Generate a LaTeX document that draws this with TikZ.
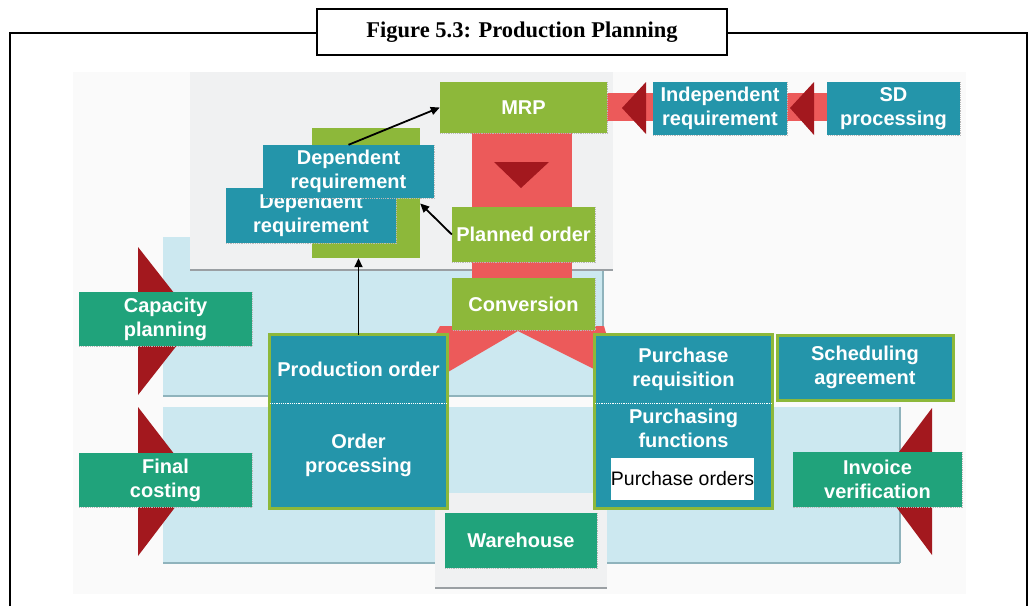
\documentclass[tikz,border=0pt]{standalone}
\usepackage{fontspec}
\setmainfont{Liberation Sans}
\newfontfamily\ttlfont{Liberation Serif}
\usetikzlibrary{arrows.meta,calc}
\definecolor{grn}{HTML}{8DB83A}
\definecolor{tealc}{HTML}{2495AA}
\definecolor{sea}{HTML}{20A37B}
\definecolor{redb}{HTML}{EC5A5A}
\definecolor{dred}{HTML}{A3181E}
\definecolor{lblue}{HTML}{CCE8F0}
\definecolor{lgray}{HTML}{F0F1F2}
\definecolor{bgc}{HTML}{FAFAFA}
\definecolor{bline}{HTML}{8FB3BC}
\definecolor{gline}{HTML}{9A9FA3}
\begin{document}
\begin{tikzpicture}[x=1pt,y=-1pt,
  lbl/.style={font=\fontsize{20}{24}\selectfont\bfseries, text=white, align=center, inner sep=0pt},
  gbox/.style={lbl, fill=grn},
  tbox/.style={lbl, fill=tealc},
  sbox/.style={lbl, fill=sea},
  arr/.style={line width=1.8pt, -{Triangle[length=9pt,width=8pt]}},
  bandline/.style={draw=bline, line width=1.2pt},
  frameline/.style={line width=2.4pt, black},
  gborder/.style={draw=grn, line width=3pt},
  wsep/.style={draw=white, line width=1.2pt, densely dotted},
  shadowln/.style={draw=gray!55, line width=1.2pt, densely dotted}]
\useasboundingbox (0,0) rectangle (1032,606);
\fill[white] (0,0) rectangle (1032,606);
% frame
\draw[frameline] (10,606) -- (10,33) -- (1027,33) -- (1027,606);
\node[draw, line width=2.4pt, fill=white, minimum width=410, minimum height=46, inner sep=0pt,
      font=\ttlfont\bfseries\fontsize{22.5}{26}\selectfont] (title) at (522,32) {Figure 5.3: Production Planning};
% background
\fill[bgc] (73,72) rectangle (966,594);
% bands
\fill[lblue] (163,237) rectangle (603,396);
\fill[lblue] (163,407) rectangle (900,563);
\draw[bandline] (163,396) -- (603,396);
\draw[bandline] (603,270) -- (603,396);
\draw[bandline] (163,563) -- (900,563);
\draw[bandline] (900,407) -- (900,563);
% MRP area
\fill[lgray] (190,72) rectangle (613,270);
\draw[gline, line width=1.5pt] (190,270) -- (613,270);
% warehouse area
\fill[lgray] (435,493) rectangle (607,588);
\draw[gline, line width=1.5pt] (435,588) -- (607,588);
% red flows
\fill[redb] (472,133) rectangle (572,330);
\fill[redb] (607,93) rectangle (830,121);
\fill[redb] (440,326) -- (604,326) -- (606,333) -- (596,370) -- (518,331) -- (448,372) -- (436,333) -- cycle;
\fill[dred] (494,162) -- (549,162) -- (521,188) -- cycle;
\fill[dred] (622,108) -- (646,82) -- (646,134) -- cycle;
\fill[dred] (790,108) -- (814,82) -- (814,135) -- cycle;
\fill[dred] (138,247) -- (196,321) -- (138,395) -- cycle;
\fill[dred] (138,407) -- (195,481) -- (138,556) -- cycle;
\fill[dred] (932,408) -- (877,481) -- (932,555) -- cycle;
% nodes
\node[gbox, minimum width=167, minimum height=51] (mrp) at (523.5,107.5) {MRP};
\node[tbox, minimum width=134, minimum height=53] (indep) at (720,108.5) {Independent\\requirement};
\node[tbox, minimum width=133, minimum height=53] (sd) at (893.5,108.5) {SD\\processing};
\node[gbox, minimum width=108, minimum height=130] (gsq) at (366,193) {};
\node[tbox, minimum width=170, minimum height=55] (ldep) at (311,215.5) {\rule{0pt}{4pt}Dependent\\requirement};
\draw[shadowln] (ldep.north east) -- (ldep.south east) -- (ldep.south west);
\node[tbox, minimum width=171, minimum height=53] (udep) at (348.5,171.5) {Dependent\\requirement};
\node[gbox, minimum width=143, minimum height=55] (plan) at (523.5,234.5) {Planned order};
\node[gbox, minimum width=143, minimum height=52] (conv) at (523.5,304) {Conversion};
\node[sbox, minimum width=173, minimum height=54] (cap) at (165.5,319) {Capacity\\planning};
\node[sbox, minimum width=173, minimum height=54] (fin) at (165.5,480) {Final\\costing};
\node[sbox, minimum width=169, minimum height=55] (inv) at (877.5,479.5) {Invoice\\verification};
\node[sbox, minimum width=152, minimum height=55] (wh) at (521,540.5) {Warehouse};
\foreach \n in {mrp,indep,sd,udep,plan,conv,cap,fin,inv,wh}
  \draw[shadowln] (\n.north east) -- (\n.south east) -- (\n.south west);
\node[tbox, minimum width=177, minimum height=68] (prod) at (358.5,369) {Production order};
\node[tbox, minimum width=177, minimum height=105] (ordp) at (358.5,455.5) {Order\\processing};
\draw[gborder] (prod.north west) rectangle (ordp.south east);
\draw[wsep] (prod.south west) -- (prod.south east);
\node[tbox, minimum width=177, minimum height=68] (preq) at (683.5,369) {Purchase\\requisition};
\node[tbox, minimum width=177, minimum height=105] (pfun) at (683.5,455.5) {};
\node[lbl] (pfuntxt) at (683.5,428) {Purchasing\\functions};
\node[fill=white, minimum width=139, minimum height=42, inner sep=0pt,
      font=\fontsize{19.5}{23}\selectfont] (pord) at (682.5,479) {Purchase orders};
\draw[gborder] (preq.north west) rectangle (pfun.south east);
\draw[wsep] (preq.south west) -- (preq.south east);
\node[tbox, gborder, minimum width=176, minimum height=65] (sched) at (865,367.5) {Scheduling\\agreement};
% arrows
\draw[arr] (udep.north) -- (mrp.west);
\draw[arr] (plan.west) -- ($(gsq.north east)!0.58!(gsq.south east)$);
\draw[arr] (prod.north) -- (prod.north |- gsq.south);
\end{tikzpicture}
\end{document}
